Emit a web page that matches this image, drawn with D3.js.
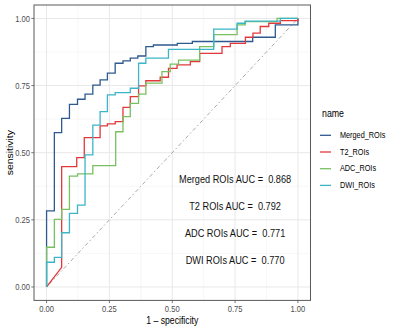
<!DOCTYPE html>
<html>
<head>
<meta charset="utf-8">
<script src="https://cdn.jsdelivr.net/npm/d3@7"></script>
<style>
  body { margin: 0; background: #fff; }
  text { font-family: "Liberation Sans", Arial, sans-serif; white-space: pre; }
</style>
</head>
<body>
<svg id="graph" width="398" height="331"></svg>
<script>
// ROC step vertices (fpr, tpr)
var mergedFpr = [0, 0, 0.031, 0.031, 0.06, 0.06, 0.091, 0.091, 0.123, 0.123, 0.153, 0.153, 0.184, 0.184, 0.213, 0.213, 0.242, 0.242, 0.273, 0.273, 0.304, 0.304, 0.333, 0.333, 0.363, 0.363, 0.395, 0.395, 0.425, 0.425, 0.52, 0.52, 0.58, 0.58, 0.82, 0.82, 0.91, 0.91, 1, 1];
var mergedTpr = [0, 0.283, 0.283, 0.575, 0.575, 0.628, 0.628, 0.68, 0.68, 0.699, 0.699, 0.718, 0.718, 0.752, 0.752, 0.771, 0.771, 0.796, 0.796, 0.833, 0.833, 0.842, 0.842, 0.852, 0.852, 0.86, 0.86, 0.895, 0.895, 0.901, 0.901, 0.907, 0.907, 0.914, 0.914, 0.93, 0.93, 0.976, 0.976, 1];

var t2Fpr = [0, 0.06, 0.06, 0.12, 0.12, 0.15, 0.15, 0.213, 0.213, 0.242, 0.242, 0.273, 0.273, 0.304, 0.304, 0.333, 0.333, 0.366, 0.366, 0.395, 0.395, 0.452, 0.452, 0.485, 0.485, 0.519, 0.519, 0.572, 0.572, 0.609, 0.609, 0.698, 0.698, 0.731, 0.731, 0.791, 0.791, 0.821, 0.821, 0.85, 0.85, 0.884, 0.884, 0.93, 0.93, 1, 1];
var t2Tpr = [0, 0.073, 0.448, 0.448, 0.482, 0.482, 0.556, 0.556, 0.6, 0.6, 0.607, 0.607, 0.616, 0.616, 0.669, 0.669, 0.709, 0.709, 0.749, 0.749, 0.768, 0.768, 0.781, 0.781, 0.814, 0.814, 0.827, 0.827, 0.839, 0.839, 0.87, 0.87, 0.895, 0.895, 0.907, 0.907, 0.93, 0.93, 0.945, 0.945, 0.97, 0.97, 0.982, 0.982, 0.992, 0.992, 1];

var adcFpr = [0, 0, 0.031, 0.031, 0.06, 0.06, 0.091, 0.091, 0.123, 0.123, 0.184, 0.184, 0.275, 0.275, 0.304, 0.304, 0.333, 0.333, 0.366, 0.366, 0.395, 0.395, 0.459, 0.459, 0.492, 0.492, 0.525, 0.525, 0.609, 0.609, 0.665, 0.665, 0.758, 0.758, 0.79, 0.79, 0.917, 0.917, 1];
var adcTpr = [0, 0.148, 0.148, 0.252, 0.252, 0.289, 0.289, 0.413, 0.413, 0.421, 0.421, 0.452, 0.452, 0.578, 0.578, 0.634, 0.634, 0.684, 0.684, 0.718, 0.718, 0.759, 0.759, 0.802, 0.802, 0.83, 0.83, 0.845, 0.845, 0.895, 0.895, 0.94, 0.94, 0.976, 0.976, 0.988, 0.988, 1, 1];

var dwiFpr = [0, 0, 0.031, 0.031, 0.06, 0.06, 0.091, 0.091, 0.123, 0.123, 0.153, 0.153, 0.184, 0.184, 0.213, 0.213, 0.242, 0.242, 0.273, 0.273, 0.333, 0.333, 0.366, 0.366, 0.395, 0.395, 0.485, 0.485, 0.665, 0.665, 0.758, 0.758, 0.79, 0.79, 0.93, 0.93, 1];
var dwiTpr = [0, 0.092, 0.092, 0.11, 0.11, 0.202, 0.202, 0.274, 0.274, 0.305, 0.305, 0.492, 0.492, 0.603, 0.603, 0.653, 0.653, 0.715, 0.715, 0.724, 0.724, 0.74, 0.74, 0.833, 0.833, 0.852, 0.852, 0.885, 0.885, 0.96, 0.96, 0.982, 0.982, 0.99, 0.99, 1, 1];

var seriesNames = ["Merged_ROIs", "T2_ROIs", "ADC_ROIs", "DWI_ROIs"];
var seriesColors = ["#2f5a8e", "#e2383c", "#78c060", "#3cb5c7"];
var aucLabels = ["Merged ROIs AUC =  0.868", "T2 ROIs AUC =  0.792", "ADC ROIs AUC =  0.771", "DWI ROIs AUC =  0.770"];
var aucY = [0.4, 0.3, 0.2, 0.1];
var ticks = [0, 0.25, 0.5, 0.75, 1];
var minorTicks = [0.125, 0.375, 0.625, 0.875];

var svg = d3.select("#graph");
var stretch = 1.2; // text in the picture is a bit taller than wide

var pLeft = 34, pRight = 310.5, pTop = 5, pBottom = 300.4;
var x = d3.scaleLinear().domain([-0.05, 1.05]).range([pLeft, pRight]);
var y = d3.scaleLinear().domain([-0.05, 1.05]).range([pBottom, pTop]);

function txt(g, px, py, str, size, anchor, rot) {
    return g.append("text")
        .attr("xml:space", "preserve")
        .attr("transform", "translate(" + px + "," + py + ") scale(1," + stretch + ")" + (rot ? " rotate(" + rot + ")" : ""))
        .attr("text-anchor", anchor)
        .attr("dominant-baseline", "central")
        .attr("font-size", size)
        .text(str);
}

// panel + grid
svg.append("rect").attr("x", pLeft).attr("y", pTop).attr("width", pRight - pLeft).attr("height", pBottom - pTop).attr("fill", "#fff");
var grid = svg.append("g");
grid.selectAll(".vmin").data(minorTicks).enter().append("line")
    .attr("x1", function(d) {return x(d);}).attr("x2", function(d) {return x(d);})
    .attr("y1", pTop).attr("y2", pBottom).attr("stroke", "#f2f2f2").attr("stroke-width", 0.6);
grid.selectAll(".hmin").data(minorTicks).enter().append("line")
    .attr("y1", function(d) {return y(d);}).attr("y2", function(d) {return y(d);})
    .attr("x1", pLeft).attr("x2", pRight).attr("stroke", "#f2f2f2").attr("stroke-width", 0.6);
grid.selectAll(".vmaj").data(ticks).enter().append("line")
    .attr("x1", function(d) {return x(d);}).attr("x2", function(d) {return x(d);})
    .attr("y1", pTop).attr("y2", pBottom).attr("stroke", "#e8e8e8").attr("stroke-width", 1);
grid.selectAll(".hmaj").data(ticks).enter().append("line")
    .attr("y1", function(d) {return y(d);}).attr("y2", function(d) {return y(d);})
    .attr("x1", pLeft).attr("x2", pRight).attr("stroke", "#e8e8e8").attr("stroke-width", 1);

// diagonal reference
svg.append("line")
    .attr("x1", x(0)).attr("y1", y(0)).attr("x2", x(1)).attr("y2", y(1))
    .attr("stroke", "#a0a0a0").attr("stroke-width", 0.9)
    .attr("stroke-dasharray", "1.5,2.5,4,2.5");

// curves
var curves = [[mergedFpr, mergedTpr], [t2Fpr, t2Tpr], [adcFpr, adcTpr], [dwiFpr, dwiTpr]];
var line = d3.line().x(function(d) {return x(d[0]);}).y(function(d) {return y(d[1]);});
svg.selectAll("path.roc")
    .data(curves)
    .enter()
    .append("path")
    .attr("class", "roc")
    .attr("fill", "none")
    .attr("stroke-width", 1.3)
    .attr("stroke-linejoin", "miter")
    .attr("stroke", function(d, i) {return seriesColors[i];})
    .attr("d", function(d) {return line(d3.zip(d[0], d[1]));});

// AUC annotations
var ann = svg.append("g").attr("fill", "#111");
aucLabels.forEach(function(s, i) {
    txt(ann, x(0.75), y(aucY[i]), s, 9.2, "middle");
});

// border
svg.append("rect").attr("x", pLeft).attr("y", pTop).attr("width", pRight - pLeft).attr("height", pBottom - pTop)
    .attr("fill", "none").attr("stroke", "#5a5a5a").attr("stroke-width", 1);

// axes
var ax = svg.append("g").attr("fill", "#4d4d4d");
ticks.forEach(function(t) {
    ax.append("line").attr("x1", x(t)).attr("x2", x(t)).attr("y1", pBottom).attr("y2", pBottom + 2.7)
        .attr("stroke", "#555").attr("stroke-width", 0.8);
    txt(ax, x(t), pBottom + 8, d3.format(".2f")(t), 7.6, "middle");
    ax.append("line").attr("y1", y(t)).attr("y2", y(t)).attr("x1", pLeft - 2.7).attr("x2", pLeft)
        .attr("stroke", "#555").attr("stroke-width", 0.8);
    txt(ax, pLeft - 4, y(t), d3.format(".2f")(t), 7.6, "end");
});
txt(svg.append("g").attr("fill", "#000"), (pLeft + pRight) / 2, 320.5, "1 \u2013 specificity", 8.7, "middle");
txt(svg.append("g").attr("fill", "#000"), 9.5, (pTop + pBottom) / 2, "sensitivity", 8.7, "middle", -90);

// legend
var leg = svg.append("g");
txt(leg, 322, 113, "name", 8.8, "start");
seriesNames.forEach(function(n, i) {
    var ly = 135.3 + i * 16.7;
    leg.append("line").attr("x1", 320).attr("x2", 331).attr("y1", ly).attr("y2", ly)
        .attr("stroke", seriesColors[i]).attr("stroke-width", 1.3);
    txt(leg, 340, ly, n, 7.3, "start");
});
</script>
</body>
</html>
